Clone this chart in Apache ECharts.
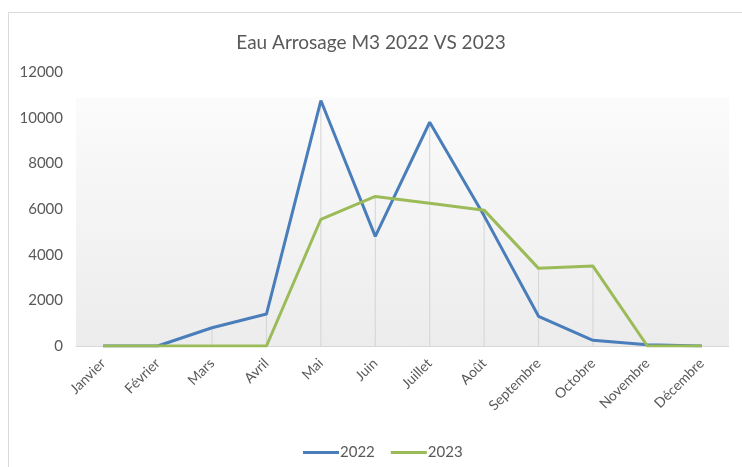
<!DOCTYPE html>
<html>
<head>
<meta charset="utf-8">
<script src="https://cdn.jsdelivr.net/npm/echarts@6/dist/echarts.min.js"></script>
<style>
  html, body { margin: 0; padding: 0; background: #ffffff; }
  #chart { width: 742px; height: 467px; }
</style>
</head>
<body>
<div id="chart"></div>
<script>
// Monthly watering water use (m3)
const months = ['Janvier', 'Février', 'Mars', 'Avril', 'Mai', 'Juin', 'Juillet', 'Août', 'Septembre', 'Octobre', 'Novembre', 'Décembre'];
const values2022 = [0, 0, 800, 1400, 10750, 4800, 9800, 5700, 1300, 250, 60, 0];
const values2023 = [0, 0, 0, 0, 5550, 6550, 6250, 5950, 3400, 3500, 0, 0];
const yTicks = [0, 2000, 4000, 6000, 8000, 10000, 12000];

// drop lines run from the higher of the two series down to the axis
const dropLines = months.map((_, i) => Math.max(values2022[i], values2023[i]));

const textGray = '#595959';
const font = 'Lato, "Open Sans", sans-serif';

const chart = echarts.init(document.getElementById('chart'));
chart.setOption({
  animation: false,
  backgroundColor: '#ffffff',
  title: {
    text: 'Eau Arrosage M3 2022 VS 2023',
    left: 'center',
    top: 28,
    textStyle: { color: textGray, fontSize: 19, fontWeight: 'normal', fontFamily: font }
  },
  graphic: [{
    type: 'rect',
    shape: { x: 8.5, y: 12.5, width: 760, height: 480 },
    style: { fill: 'none', stroke: '#d9d9d9', lineWidth: 1 },
    silent: true,
    z: -10
  }],
  legend: {
    data: ['2022', '2023'],
    top: 440,
    left: 298,
    icon: 'rect',
    itemWidth: 36,
    itemHeight: 3,
    itemGap: 16,
    textStyle: { color: textGray, fontSize: 15, fontFamily: font, padding: [0, 0, 0, -4] }
  },
  grid: {
    left: 76, right: 13, top: 72, bottom: 121,
    show: true,
    borderWidth: 0,
    backgroundColor: {
      type: 'linear', x: 0, y: 0, x2: 0, y2: 1,
      colorStops: [
        { offset: 0, color: '#ffffff' },
        { offset: 0.09, color: '#ffffff' },
        { offset: 0.095, color: '#fbfbfb' },
        { offset: 1, color: '#ececec' }
      ]
    }
  },
  xAxis: {
    type: 'category',
    data: months,
    boundaryGap: true,
    axisLine: { lineStyle: { color: '#d9d9d9', width: 1 } },
    axisTick: { show: false },
    axisLabel: { rotate: 45, color: textGray, fontSize: 14, fontFamily: font, margin: 15, interval: 0 }
  },
  yAxis: {
    type: 'value',
    min: yTicks[0],
    max: yTicks[yTicks.length - 1],
    interval: yTicks[1] - yTicks[0],
    axisLine: { show: false },
    axisTick: { show: false },
    splitLine: { show: false },
    axisLabel: {
      color: textGray, fontSize: 15, fontFamily: font, margin: 13,
      formatter: (v) => String(v)
    }
  },
  series: [
    {
      name: 'drop',
      type: 'bar',
      data: dropLines,
      barWidth: 1,
      itemStyle: { color: '#d4d4d4' },
      silent: true,
      z: 1
    },
    {
      name: '2022',
      type: 'line',
      data: values2022,
      showSymbol: false,
      lineStyle: { color: '#4A7EBB', width: 3 },
      itemStyle: { color: '#4A7EBB' },
      z: 3
    },
    {
      name: '2023',
      type: 'line',
      data: values2023,
      showSymbol: false,
      lineStyle: { color: '#9BBB59', width: 3 },
      itemStyle: { color: '#9BBB59' },
      z: 4
    }
  ]
});
</script>
</body>
</html>
